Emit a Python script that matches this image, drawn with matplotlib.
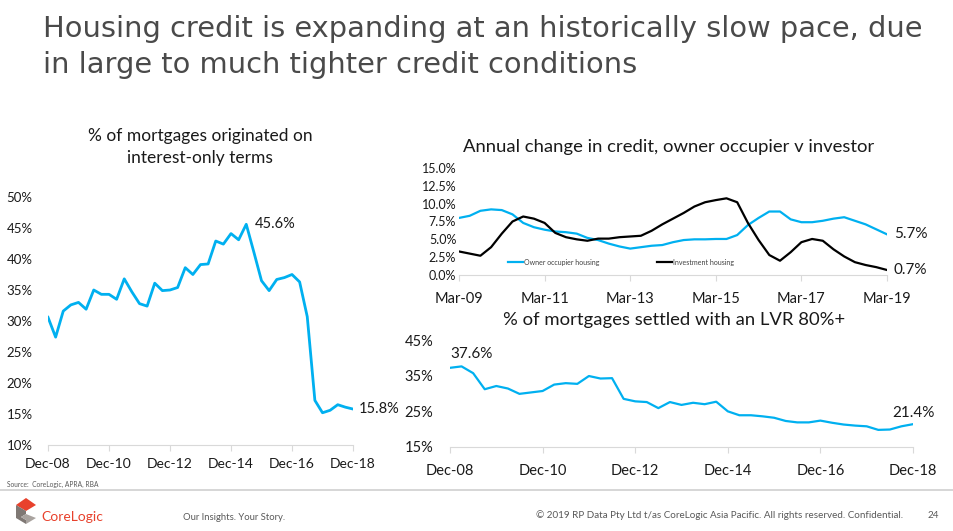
import matplotlib
matplotlib.use("Agg")
import matplotlib.pyplot as plt
from matplotlib.patches import Polygon
from matplotlib.lines import Line2D
import numpy as np

plt.rcParams['font.family'] = ['Lato', 'DejaVu Sans']

BLUE = '#00B0F0'
TXT = '#1a1a1a'

# ---- Data ----
io_ticks = ['Dec-08', 'Dec-10', 'Dec-12', 'Dec-14', 'Dec-16', 'Dec-18']
interest_only = [30.6, 27.4, 31.6, 32.6, 33.0, 31.9, 35.0, 34.3, 34.3, 33.5,
                 36.8, 34.7, 32.8, 32.4, 36.1, 34.9, 35.0, 35.4, 38.6, 37.5,
                 39.1, 39.2, 42.9, 42.4, 44.1, 43.1, 45.6, 41.1, 36.5, 34.9,
                 36.7, 37.0, 37.5, 36.3, 30.7, 17.2, 15.2, 15.6, 16.5, 16.1, 15.8]

credit_ticks = ['Mar-09', 'Mar-11', 'Mar-13', 'Mar-15', 'Mar-17', 'Mar-19']
owner_occupier = [8.0, 8.3, 9.0, 9.2, 9.1, 8.5, 7.3, 6.7, 6.35, 6.1, 6.0, 5.8,
                  5.2, 4.9, 4.4, 4.0, 3.7, 3.9, 4.1, 4.2, 4.6, 4.9, 5.0, 5.0,
                  5.05, 5.05, 5.6, 7.0, 8.0, 8.9, 8.9, 7.8, 7.4, 7.4, 7.6, 7.9,
                  8.1, 7.6, 7.1, 6.4, 5.7]
investor = [3.3, 3.0, 2.7, 3.9, 5.8, 7.5, 8.2, 7.9, 7.3, 5.9, 5.3, 5.0, 4.8,
            5.1, 5.1, 5.3, 5.4, 5.5, 6.2, 7.1, 7.9, 8.7, 9.6, 10.2, 10.5, 10.75,
            10.2, 7.3, 4.9, 2.8, 2.0, 3.2, 4.6, 5.05, 4.8, 3.6, 2.6, 1.8, 1.4,
            1.1, 0.7]

lvr_ticks = ['Dec-08', 'Dec-10', 'Dec-12', 'Dec-14', 'Dec-16', 'Dec-18']
lvr80 = [37.2, 37.6, 35.7, 31.2, 32.1, 31.4, 29.9, 30.3, 30.7, 32.5, 32.9,
         32.7, 34.9, 34.2, 34.3, 28.5, 27.8, 27.6, 25.9, 27.6, 26.8, 27.4,
         27.0, 27.7, 25.0, 23.9, 23.9, 23.6, 23.2, 22.3, 21.9, 21.9, 22.4,
         21.8, 21.3, 21.0, 20.8, 19.8, 19.9, 20.8, 21.4]

W, H = 954, 531
fig = plt.figure(figsize=(W / 100, H / 100), dpi=100)

def fx(px):
    return px / W

def fy(py):
    return 1 - py / H

def style_axes(ax):
    for s in ['top', 'right', 'left']:
        ax.spines[s].set_visible(False)
    ax.spines['bottom'].set_color('#d9d9d9')
    ax.tick_params(axis='y', length=0, labelsize=9.5, colors=TXT, pad=11)
    ax.tick_params(axis='x', length=4, color='#d9d9d9', labelsize=10, colors=TXT, pad=5)

# ---- Title ----
t1 = fig.text(fx(43), fy(37), 'Housing credit is expanding at an historically slow pace, due',
              fontsize=20.5, color='#4a4a4a', va='baseline', ha='left', family=['DejaVu Sans'])
fig.canvas.draw()
w = t1.get_window_extent().width
fs = 20.5 * 875 / w
t1.set_fontsize(fs)
fig.text(fx(43), fy(73), 'in large to much tighter credit conditions',
         fontsize=fs, color='#4a4a4a', va='baseline', ha='left', family=['DejaVu Sans'])

# ---- Left chart ----
ax1 = fig.add_axes([fx(48), fy(445), fx(353 - 48), (445 - 197) / H])
x1 = np.arange(len(interest_only))
ax1.plot(x1, interest_only, color=BLUE, lw=2)
ax1.set_xlim(0, 40)
ax1.set_ylim(10, 50)
ax1.set_yticks(range(10, 51, 5))
ax1.set_yticklabels([f'{v}%' for v in range(10, 51, 5)])
ax1.set_xticks(range(0, 41, 8))
ax1.set_xticklabels(io_ticks)
style_axes(ax1)
ax1.tick_params(axis='y', pad=11)
ax1.annotate('45.6%', (26, 45.6), xytext=(6, 0), textcoords='offset points',
             fontsize=10.5, color=TXT, va='center', ha='left')
ax1.annotate('15.8%', (40, 15.8), xytext=(4, 0), textcoords='offset points',
             fontsize=10.5, color=TXT, va='center', ha='left', annotation_clip=False)
fig.text(fx(200), fy(147), '% of mortgages originated on\ninterest-only terms', fontsize=12.5,
         ha='center', va='center', color=TXT, linespacing=1.4)

# ---- Top right chart ----
ax2 = fig.add_axes([fx(459), fy(275), fx(887 - 459), (275 - 168) / H])
x2 = np.arange(len(owner_occupier))
l_oo, = ax2.plot(x2, owner_occupier, color=BLUE, lw=1.6)
l_inv, = ax2.plot(x2, investor, color='black', lw=1.6)
ax2.set_xlim(0, 40)
ax2.set_ylim(0, 15)
yt = np.arange(0, 15.01, 2.5)
ax2.set_yticks(yt)
ax2.set_yticklabels([f'{v:.1f}%' for v in yt])
ax2.set_xticks(range(0, 41, 8))
ax2.set_xticklabels(credit_ticks)
style_axes(ax2)
ax2.tick_params(axis='y', pad=2, labelsize=9)
ax2.tick_params(axis='x', labelsize=10.5, pad=8)
ax2.annotate('5.7%', (40, 5.7), xytext=(5, 0), textcoords='offset points',
             fontsize=11, color=TXT, va='center', ha='left', annotation_clip=False)
ax2.annotate('0.7%', (40, 0.7), xytext=(5, 0), textcoords='offset points',
             fontsize=11, color=TXT, va='center', ha='left', annotation_clip=False)
leg_kw = dict(frameon=False, fontsize=5, handlelength=2.2, handletextpad=0.1,
              labelcolor='#404040', borderaxespad=0, borderpad=0)
leg1 = ax2.legend([l_oo], ['Owner occupier housing'], loc='center left',
                  bbox_to_anchor=((508 - 459) / 428, (275 - 262) / 107), **leg_kw)
ax2.add_artist(leg1)
ax2.legend([l_inv], ['Investment housing'], loc='center left',
           bbox_to_anchor=((657 - 459) / 428, (275 - 262) / 107), **leg_kw)
fig.text(fx(669), fy(147), 'Annual change in credit, owner occupier v investor', fontsize=13.3,
         ha='center', va='center', color=TXT)

# ---- Bottom right chart ----
ax3 = fig.add_axes([fx(450), fy(447), fx(913 - 450), (447 - 340) / H])
x3 = np.arange(len(lvr80))
ax3.plot(x3, lvr80, color=BLUE, lw=1.6)
ax3.set_xlim(0, 40)
ax3.set_ylim(15, 45)
ax3.set_yticks(range(15, 46, 10))
ax3.set_yticklabels([f'{v}%' for v in range(15, 46, 10)])
ax3.set_xticks(range(0, 41, 8))
ax3.set_xticklabels(lvr_ticks)
style_axes(ax3)
ax3.tick_params(axis='x', labelsize=10.5, pad=8)
ax3.tick_params(axis='y', labelsize=10.5, pad=12)
ax3.annotate('37.6%', (0, 37.6), xytext=(0, 4), textcoords='offset points',
             fontsize=11, color=TXT, va='bottom', ha='left')
ax3.annotate('21.4%', (40, 21.4), xytext=(0, 3), textcoords='offset points',
             fontsize=11, color=TXT, va='bottom', ha='center', annotation_clip=False)
fig.text(fx(674), fy(320), '% of mortgages settled with an LVR 80%+', fontsize=13.3,
         ha='center', va='center', color=TXT)

# ---- Footer ----
fig.text(fx(7), fy(484), 'Source:  CoreLogic, APRA, RBA', fontsize=4.8, color='#595959',
         ha='left', va='center')
fig.add_artist(Line2D([0, 1], [fy(490), fy(490)], color='#cfcfcf', lw=1.2,
                      transform=fig.transFigure))
# logo
def poly(pts, color):
    fig.add_artist(Polygon([(fx(a), fy(b)) for a, b in pts], closed=True,
                           transform=fig.transFigure, color=color, lw=0))

poly([(16, 505), (26, 498), (36, 505), (26, 511)], '#e8412c')
poly([(16, 505), (26, 511), (26, 514), (21, 517), (26, 520), (26, 524), (16, 518)], '#7f7874')
poly([(26, 514), (36, 518), (26, 524), (26, 520), (21, 517)], '#a9a39f')
fig.text(fx(41), fy(517), 'CoreLogic', fontsize=10, color='#e8412c', ha='left', va='center')
fig.text(fx(183), fy(517), 'Our Insights. Your Story.', fontsize=6.8, color='#595959',
         ha='left', va='center')
fig.text(fx(903), fy(515), '\u00a9 2019 RP Data Pty Ltd t/as CoreLogic Asia Pacific. All rights reserved. Confidential.',
         fontsize=7.1, color='#595959', ha='right', va='center')
fig.text(fx(928), fy(515), '24', fontsize=7.1, color='#595959', ha='left', va='center')

fig.savefig('out.png', dpi=100)
